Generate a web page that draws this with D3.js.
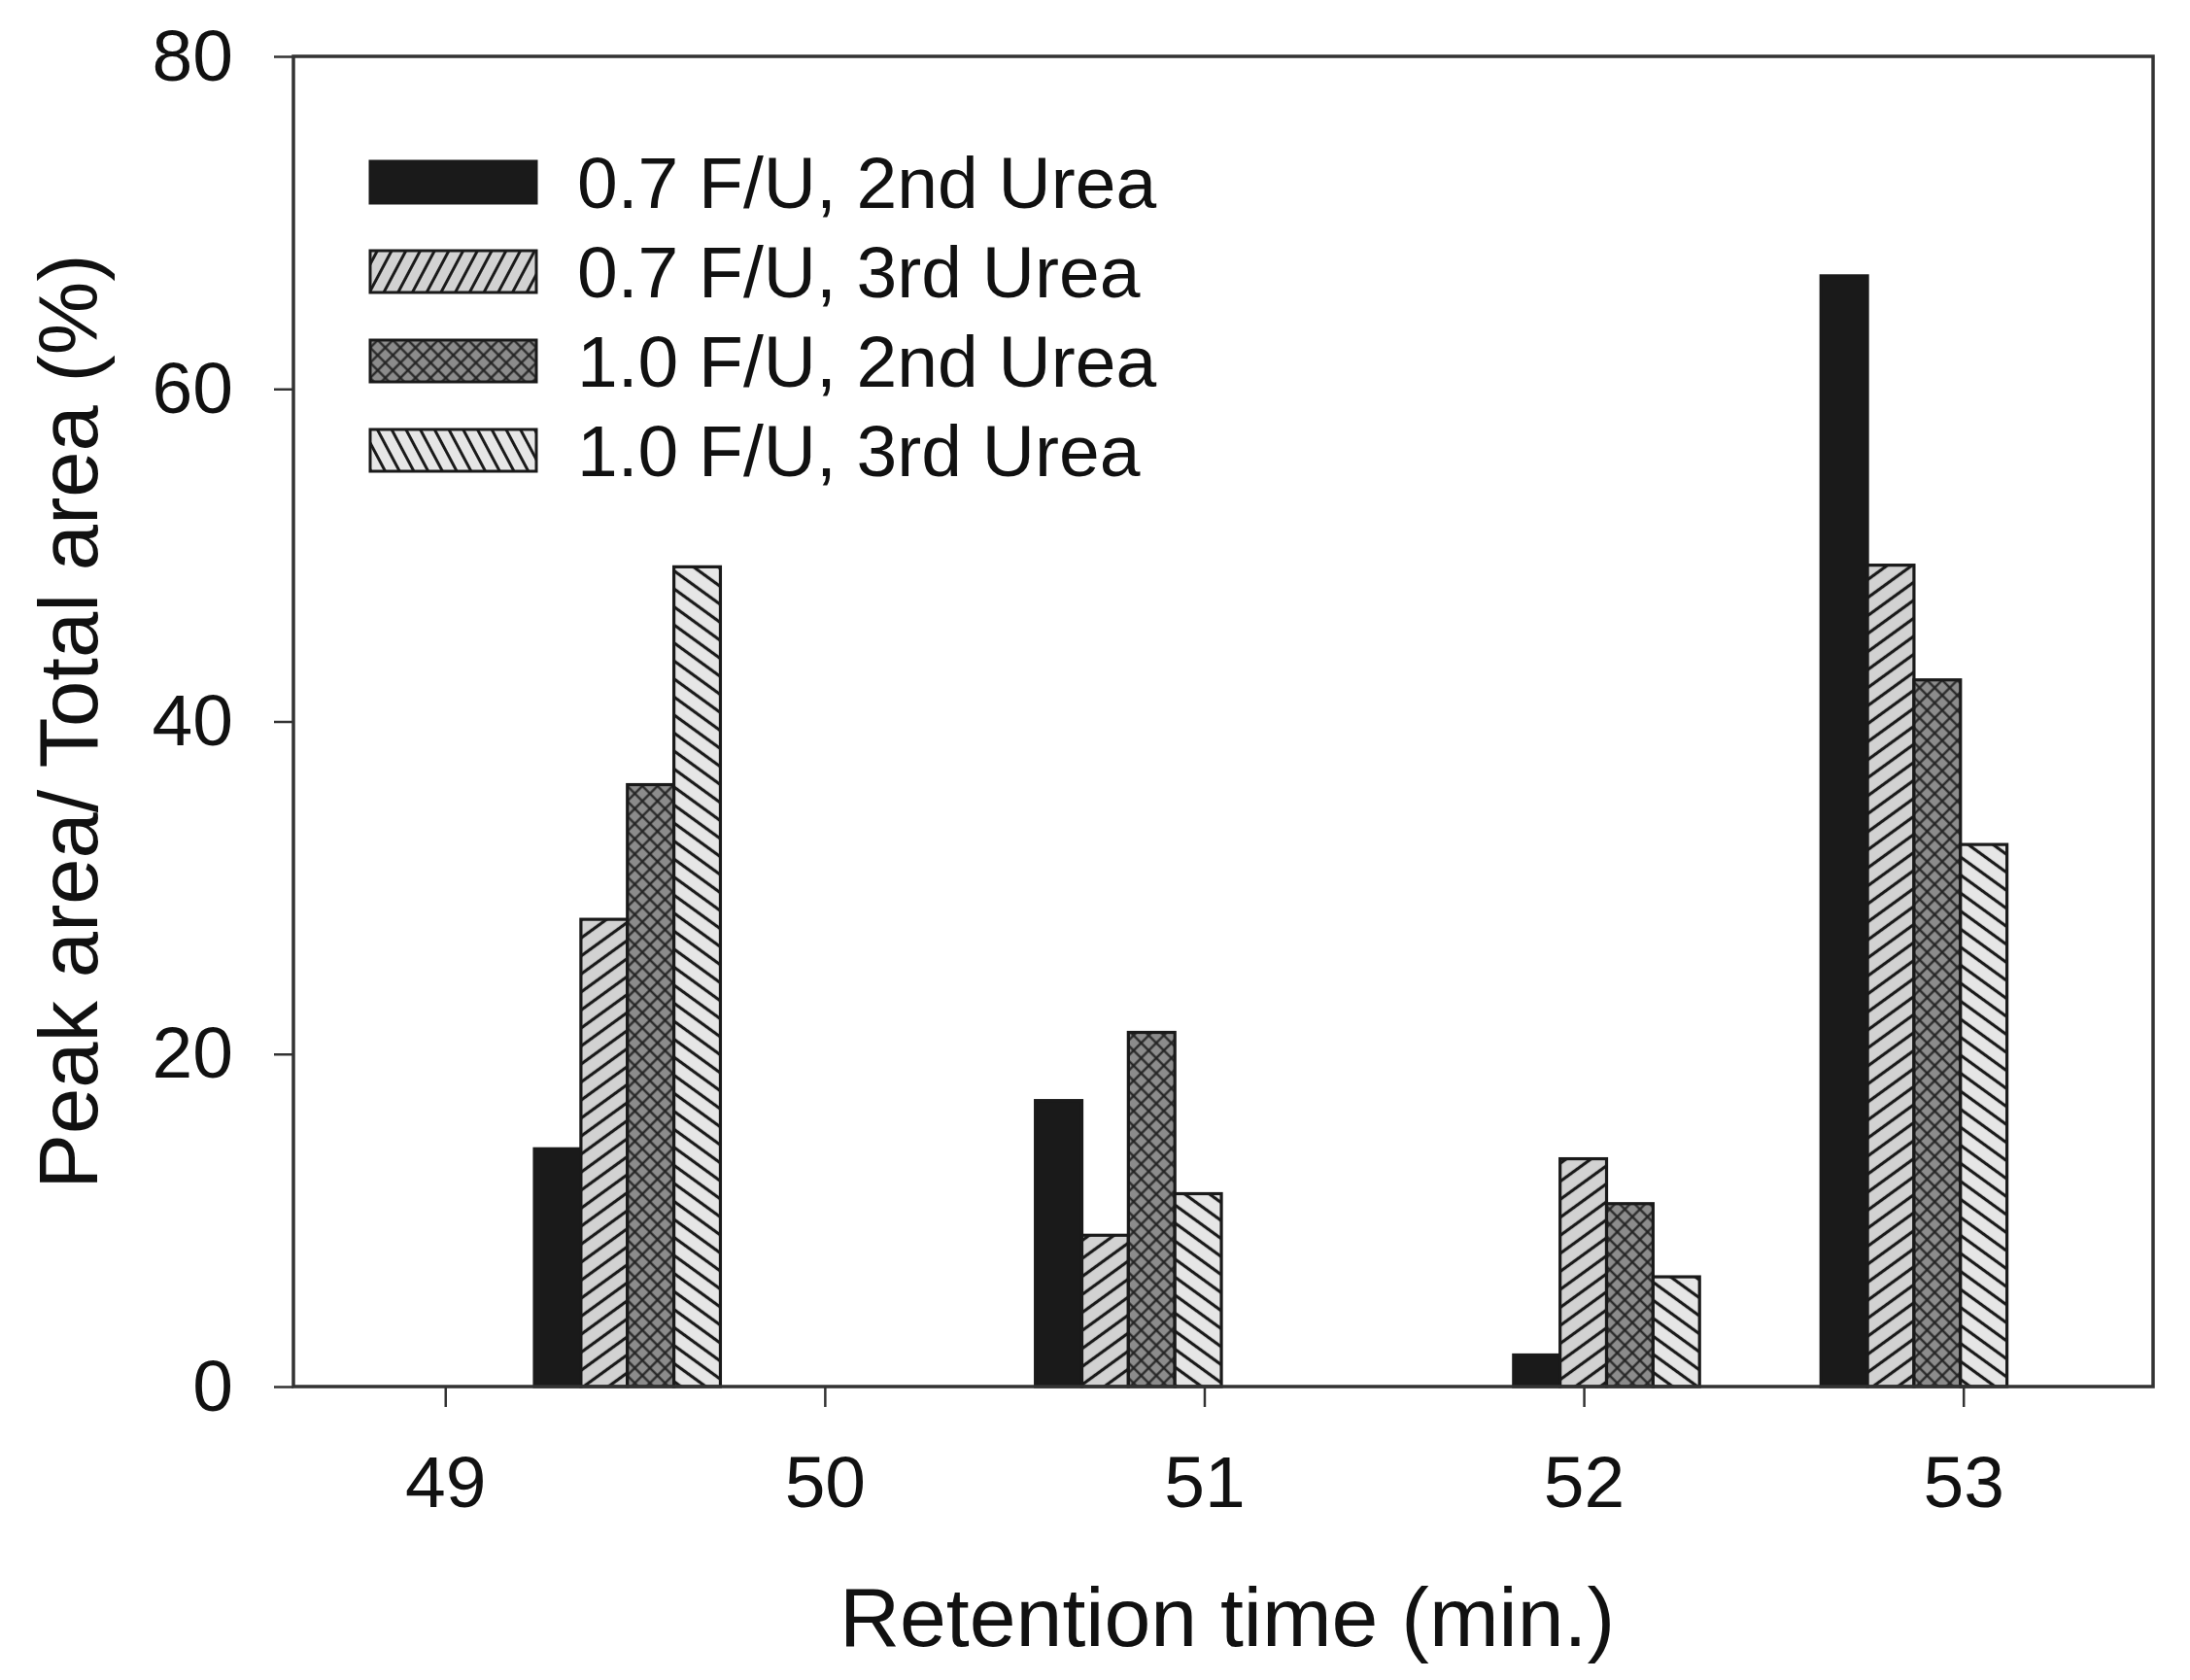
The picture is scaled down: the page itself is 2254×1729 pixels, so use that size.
<!DOCTYPE html>
<html>
<head>
<meta charset="utf-8">
<script src="https://cdn.jsdelivr.net/npm/d3@7"></script>
<style>
  html, body { margin: 0; padding: 0; background: #fff; }
  text { font-family: "Liberation Sans", Arial, sans-serif; fill: #111; }
</style>
</head>
<body>
<script>
'use strict';

// retention time of each peak group (min.)
var peakTimes = [49.48, 50.80, 52.06, 52.87];
var seriesNames = ['0.7 F/U, 2nd Urea', '0.7 F/U, 3rd Urea', '1.0 F/U, 2nd Urea', '1.0 F/U, 3rd Urea'];
// peak area / total area (%), one array per series, in peakTimes order
var fu07second = [14.3, 17.2, 1.9, 66.8];
var fu07third = [28.1, 9.1, 13.7, 49.4];
var fu10second = [36.2, 21.3, 11.0, 42.5];
var fu10third = [49.3, 11.6, 6.6, 32.6];
var xTicks = [49, 50, 51, 52, 53];
var yTicks = [0, 20, 40, 60, 80];

var series = [fu07second, fu07third, fu10second, fu10third];

var width = 2254;
var height = 1729;
var plotLeft = 302, plotRight = 2216, plotTop = 58, plotBottom = 1427;
var barW = 0.1225; // in minutes

var svg = d3.select('body').append('svg')
  .attr('width', width)
  .attr('height', height);

var defs = svg.append('defs');

// fill styles
function hatch(id, bg, angle, gap, lw) {
  var p = defs.append('pattern')
    .attr('id', id)
    .attr('patternUnits', 'userSpaceOnUse')
    .attr('width', gap)
    .attr('height', gap)
    .attr('patternTransform', 'rotate(' + angle + ')');
  p.append('rect').attr('width', gap).attr('height', gap).attr('fill', bg);
  p.append('line')
    .attr('x1', 0).attr('y1', gap / 2)
    .attr('x2', gap).attr('y2', gap / 2)
    .attr('stroke', '#1a1a1a')
    .attr('stroke-width', lw);
}
function crossHatch(id, gap) {
  var p = defs.append('pattern')
    .attr('id', id)
    .attr('patternUnits', 'userSpaceOnUse')
    .attr('width', gap)
    .attr('height', gap)
    .attr('patternTransform', 'rotate(45)');
  p.append('rect').attr('width', gap).attr('height', gap).attr('fill', '#8c8c8c');
  p.append('line').attr('x1', 0).attr('y1', gap / 2).attr('x2', gap).attr('y2', gap / 2)
    .attr('stroke', '#222').attr('stroke-width', 2.2);
  p.append('line').attr('x1', gap / 2).attr('y1', 0).attr('x2', gap / 2).attr('y2', gap)
    .attr('stroke', '#222').attr('stroke-width', 2.2);
}
hatch('fwd', '#d2d2d2', -36, 15, 3.2);
hatch('back', '#e6e6e6', 36, 15, 3.2);
crossHatch('cross', 11);
// legend swatches use steeper lines
hatch('fwdL', '#d2d2d2', -62, 13, 3);
hatch('backL', '#e6e6e6', 62, 13, 3);
crossHatch('crossL', 11);

var fills = ['#1a1a1a', 'url(#fwd)', 'url(#cross)', 'url(#back)'];
var legendFills = ['#1a1a1a', 'url(#fwdL)', 'url(#crossL)', 'url(#backL)'];

var x = d3.scaleLinear().domain([48.6, 53.5]).range([plotLeft, plotRight]);
var y = d3.scaleLinear().domain([0, 80]).range([plotBottom, plotTop]);

// bars
series.forEach(function (vals, si) {
  svg.append('g').selectAll('rect')
    .data(vals)
    .enter()
    .append('rect')
    .attr('x', function (d, i) { return x(peakTimes[i] - 2 * barW + si * barW); })
    .attr('y', function (d) { return y(d); })
    .attr('width', function (d, i) { return x(peakTimes[i] + barW) - x(peakTimes[i]); })
    .attr('height', function (d) { return y(0) - y(d); })
    .attr('fill', fills[si])
    .attr('stroke', '#1a1a1a')
    .attr('stroke-width', 3.2);
});

// axes
var xAxis = svg.append('g')
  .attr('transform', 'translate(0,' + plotBottom + ')')
  .call(d3.axisBottom(x).tickValues(xTicks).tickFormat(d3.format('d')).tickSize(21).tickPadding(50).tickSizeOuter(0));
var yAxis = svg.append('g')
  .attr('transform', 'translate(' + plotLeft + ',0)')
  .call(d3.axisLeft(y).tickValues(yTicks).tickSize(20).tickPadding(42).tickSizeOuter(0));

[xAxis, yAxis].forEach(function (g) {
  g.select('.domain').remove();
  g.selectAll('.tick line').attr('stroke', '#333').attr('stroke-width', 2.5);
  g.selectAll('.tick text')
    .style('font-family', '"Liberation Sans", Arial, sans-serif')
    .style('font-size', '75px')
    .attr('fill', '#111');
});

// frame
svg.append('rect')
  .attr('x', plotLeft).attr('y', plotTop)
  .attr('width', plotRight - plotLeft).attr('height', plotBottom - plotTop)
  .attr('fill', 'none')
  .attr('stroke', '#333')
  .attr('stroke-width', 3.5);

// titles
svg.append('text')
  .attr('x', (plotLeft + plotRight) / 2 + 4)
  .attr('y', 1694)
  .attr('text-anchor', 'middle')
  .style('font-size', '86px')
  .text('Retention time (min.)');

svg.append('text')
  .attr('transform', 'translate(100,' + (plotTop + plotBottom) / 2 + ') rotate(-90)')
  .attr('text-anchor', 'middle')
  .style('font-size', '85px')
  .text('Peak area/ Total area (%)');

// legend
var legend = svg.append('g').attr('transform', 'translate(381,166)');
var rows = legend.selectAll('g')
  .data(seriesNames)
  .enter()
  .append('g')
  .attr('transform', function (d, i) { return 'translate(0,' + i * 92 + ')'; });
rows.append('rect')
  .attr('width', 171)
  .attr('height', 43)
  .attr('fill', function (d, i) { return legendFills[i]; })
  .attr('stroke', '#1a1a1a')
  .attr('stroke-width', 3);
rows.append('text')
  .attr('x', 213)
  .attr('y', 48)
  .style('font-size', '75px')
  .text(function (d) { return d; });
</script>
</body>
</html>
